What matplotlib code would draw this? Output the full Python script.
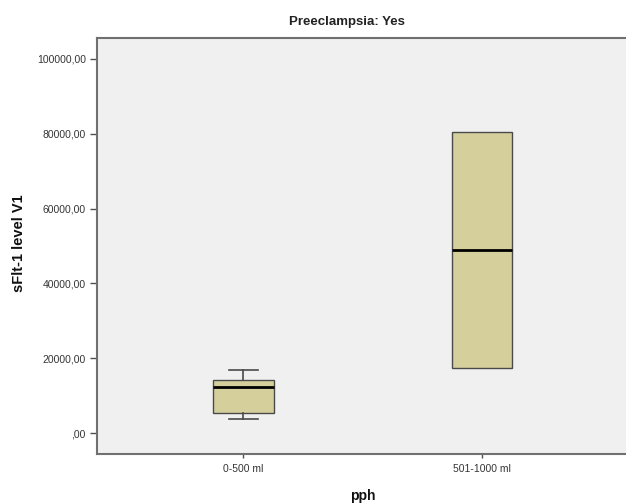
import matplotlib.pyplot as plt
import matplotlib.ticker as mticker

plt.rcParams['font.family'] = ['Liberation Sans', 'DejaVu Sans']

# values (sFlt-1 level V1)
groups = ["0-500 ml", "501-1000 ml"]
whisker_low = [3660, 17460]
q1 = [5270, 17460]
median = [12220, 49010]
q3 = [14170, 80400]
whisker_high = [16760, 80400]
yticks = [0, 20000, 40000, 60000, 80000, 100000]

stats = []
for i in range(len(groups)):
    stats.append({"label": groups[i], "whislo": whisker_low[i], "q1": q1[i],
                  "med": median[i], "q3": q3[i], "whishi": whisker_high[i],
                  "fliers": []})

fig = plt.figure(figsize=(6.26, 5.04), dpi=100)
ax = fig.add_axes([97/626, (504-454)/504, 1 - 97/626, (454-38)/504])
ax.set_facecolor("#f0f0f0")

edge = "#4a4a4a"
bp = ax.bxp(stats, positions=[1, 2], widths=0.255, patch_artist=True,
            showfliers=False,
            boxprops=dict(facecolor="#d4cf9b", edgecolor=edge, linewidth=1.0),
            medianprops=dict(color="black", linewidth=2.0),
            whiskerprops=dict(color=edge, linewidth=1.2),
            capprops=dict(color=edge, linewidth=1.2))
for i, cap in enumerate(bp["caps"]):
    x = cap.get_xdata()
    c = (x[0] + x[1]) / 2
    cap.set_xdata([c - 0.062, c + 0.062])
    # no cap when the whisker ends at the box edge
    g = i // 2
    if whisker_low[g] == q1[g] and whisker_high[g] == q3[g]:
        cap.set_visible(False)

ax.set_xlim(0.386, 2.604)
ax.set_ylim(-5600, 105600)
ax.set_yticks(yticks)
ax.yaxis.set_major_formatter(mticker.FuncFormatter(
    lambda v, p: (",00" if v == 0 else f"{int(v)},00")))
ax.set_xticks([1, 2])
ax.set_xticklabels(groups)

for side in ["left", "bottom", "top"]:
    ax.spines[side].set_color("#707070")
    ax.spines[side].set_linewidth(1.5)
ax.spines["right"].set_visible(False)

ax.tick_params(axis="y", length=5, width=1, color="#505050", pad=3,
               labelsize=7.5, labelcolor="#353535")
ax.tick_params(axis="x", length=3, width=1, color="#505050", pad=4,
               labelsize=7.5, labelcolor="#353535")

fig.text(347/626, 1 - 22/504, "Preeclampsia: Yes", ha="center", va="center",
         fontsize=9.5, fontweight="bold", color="#222222")
fig.text(19/626, 1 - 243/504, "sFlt-1 level V1", ha="center", va="center",
         rotation=90, fontsize=10.5, fontweight="bold", color="#111111")
fig.text(363/626, 1 - 496/504, "pph", ha="center", va="center",
         fontsize=10, fontweight="bold", color="#111111")

fig.savefig("out.png", dpi=100)
